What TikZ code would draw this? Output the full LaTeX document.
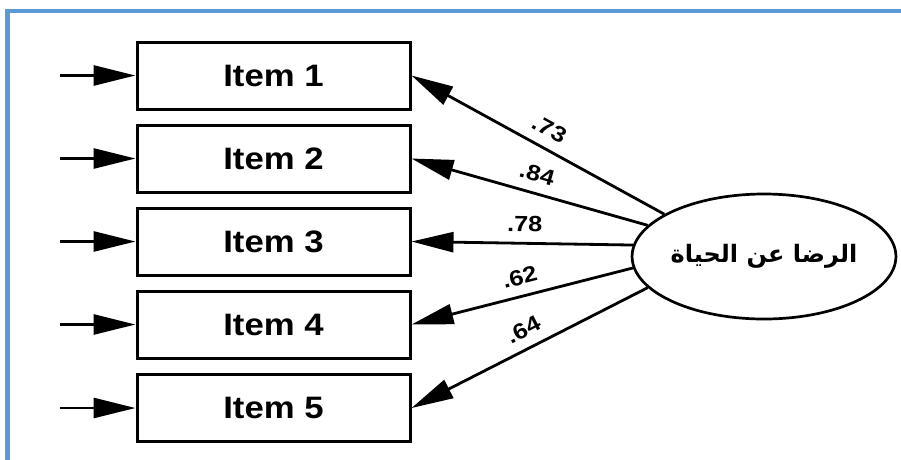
\documentclass[tikz,border=0pt]{standalone}
\usepackage{fontspec}
\setmainfont{Liberation Sans}
\newfontfamily\itemfont[FakeStretch=1.12]{Liberation Sans Bold}
\newfontfamily\labfont[FakeStretch=1.15]{Liberation Sans Bold}
\newfontfamily\arabicfont[Script=Arabic]{DejaVu Sans}
\TeXXeTstate=1
\usetikzlibrary{arrows.meta,shapes.geometric}
\definecolor{frameblue}{HTML}{5B9BD5}
\begin{document}
\begin{tikzpicture}[x=1pt,y=-1pt,
  itembox/.style={draw, line width=3pt, minimum width=273pt, minimum height=67pt, inner sep=0pt,
    font=\itemfont\fontsize{31}{31}\selectfont},
  arr/.style={line width=2.8pt, -{Triangle[length=42pt,width=20pt]}},
  lab/.style={font=\labfont\fontsize{22}{22}\selectfont, inner sep=0pt, sloped, above=10pt, pos=0.49},
  latent/.style={draw, ellipse, line width=2.7pt, minimum width=246pt, minimum height=125pt, inner sep=0pt}]
\useasboundingbox (0,0) rectangle (901,459);
\clip (0,0) rectangle (901,459);
\fill[white] (0,0) rectangle (901,459);
\draw[frameblue, line width=4.5pt] (7.5,11) rectangle (940,500);
% items
\node[itembox] (i1) at (273.5,75.5) {Item 1};
\node[itembox] (i2) at (273.5,158.5) {Item 2};
\node[itembox] (i3) at (273.5,241.5) {Item 3};
\node[itembox] (i4) at (273.5,324.5) {Item 4};
\node[itembox] (i5) at (273.5,408) {Item 5};
% latent
\node[latent] (e) at (764,256.5) {\arabicfont\bfseries\fontsize{24}{24}\selectfont\beginR الرضا عن الحياة\endR};
% error arrows
\coordinate (s1) at (60,75.5);
\coordinate (s2) at (60,158.5);
\coordinate (s3) at (60,241.5);
\coordinate (s4) at (60,324.5);
\coordinate (s5) at (60,408);
\draw[arr] (s1) -- (i1.west);
\draw[arr] (s2) -- (i2.west);
\draw[arr] (s3) -- (i3.west);
\draw[arr] (s4) -- (i4.west);
\draw[arr] (s5) -- (i5.west);
% loadings
\draw[arr] (e.157) -- node[lab] {.73} (i1.east);
\draw[arr] (e.165.4) -- node[lab] {.84} (i2.east);
\draw[arr] (e.175) -- node[lab] {.78} (i3.east);
\draw[arr] (e.185.4) -- node[lab] {.62} (i4.east);
\draw[arr] (e.195.6) -- node[lab] {.64} (i5.east);
\end{tikzpicture}
\end{document}
